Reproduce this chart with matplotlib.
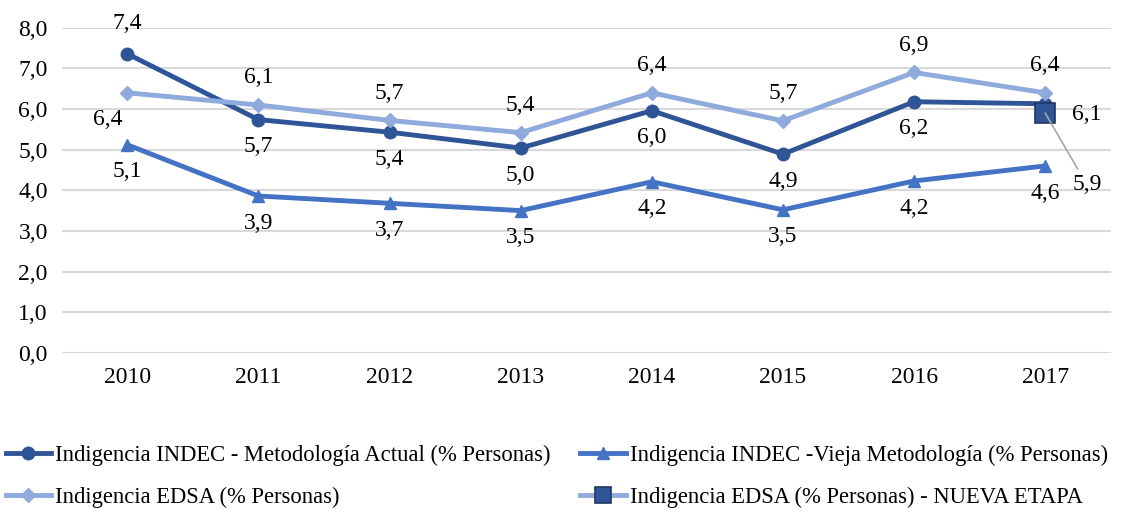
import matplotlib.pyplot as plt
from matplotlib.lines import Line2D

plt.rcParams['font.family'] = ['Liberation Serif', 'DejaVu Serif']

years = ['2010', '2011', '2012', '2013', '2014', '2015', '2016', '2017']
indec_actual = [7.36, 5.74, 5.43, 5.04, 5.96, 4.89, 6.18, 6.13]
indec_vieja = [5.12, 3.86, 3.68, 3.5, 4.21, 3.52, 4.23, 4.6]
edsa = [6.4, 6.1, 5.72, 5.42, 6.4, 5.71, 6.9, 6.4]
edsa_nueva = [5.9]

c_dark = '#2F5597'
c_mid = '#4472C4'
c_light = '#8FAADC'

fig = plt.figure(figsize=(11.22, 5.15), dpi=100)
ax = fig.add_axes([0.055, 0.315, 0.935, 0.631])
x = list(range(len(years)))

l1, = ax.plot(x, indec_actual, color=c_dark, lw=3.5, marker='o', ms=9,
              label='Indigencia INDEC - Metodología Actual (% Personas)')
l2, = ax.plot(x, indec_vieja, color=c_mid, lw=3.5, marker='^', ms=9,
              label='Indigencia INDEC -Vieja Metodología (% Personas)')
l3, = ax.plot(x, edsa, color=c_light, lw=3.5, marker='D', ms=7,
              label='Indigencia EDSA (% Personas)')
ax.plot([x[-1]], edsa_nueva, marker='s', ms=15, mfc=c_dark, mec='#1F3864',
        mew=1.2, linestyle='none')
l4 = Line2D([], [], color=c_light, lw=3.5, marker='s', ms=12, mfc=c_dark,
            mec='#1F3864', mew=1.2,
            label='Indigencia EDSA (% Personas) - NUEVA ETAPA')

fs = 17
def fmt(v):
    return ('%.1f' % v).replace('.', ',')

# etiquetas de datos
for i, v in enumerate(indec_actual):
    if i == 0:
        off = (0, 14); va = 'bottom'
    elif i == 7:
        off = (30, -8); va = 'center'
    else:
        off = (0, -12); va = 'top'
    ax.annotate(fmt(v), (i, v), xytext=off, textcoords='offset points',
                ha='center', va=va, fontsize=fs)
for i, v in enumerate(indec_vieja):
    ax.annotate(fmt(v), (i, v), xytext=(0, -12), textcoords='offset points',
                ha='center', va='top', fontsize=fs)
for i, v in enumerate(edsa):
    if i == 0:
        off = (-14, -12); va = 'top'
    else:
        off = (0, 12); va = 'bottom'
    ax.annotate(fmt(v), (i, v), xytext=off, textcoords='offset points',
                ha='center', va=va, fontsize=fs)
ax.annotate(fmt(edsa_nueva[0]), (7, edsa_nueva[0]), xytext=(30, -44),
            textcoords='offset points', ha='center', va='top', fontsize=fs,
            arrowprops=dict(arrowstyle='-', color='#A6A6A6', lw=1.2,
                            shrinkA=2, shrinkB=0))

ax.set_ylim(0, 8)
ax.set_yticks([0, 1, 2, 3, 4, 5, 6, 7, 8])
ax.set_yticklabels([fmt(v) for v in range(9)])
ax.set_xlim(-0.5, 7.5)
ax.set_xticks(x)
ax.set_xticklabels(years)
ax.tick_params(labelsize=fs, length=0, pad=10)
ax.grid(axis='y', color='#D9D9D9', lw=1.5)
ax.set_axisbelow(True)
for s in ax.spines.values():
    s.set_visible(False)

fig.legend(handles=[l1, l3, l2, l4], loc='upper left', ncol=2,
           bbox_to_anchor=(0.005, 0.137), frameon=False, fontsize=16.3,
           handlelength=2.0, handletextpad=0.2, columnspacing=1.3,
           labelspacing=0.95, borderaxespad=0, borderpad=0)

fig.savefig('out.png', dpi=100)
